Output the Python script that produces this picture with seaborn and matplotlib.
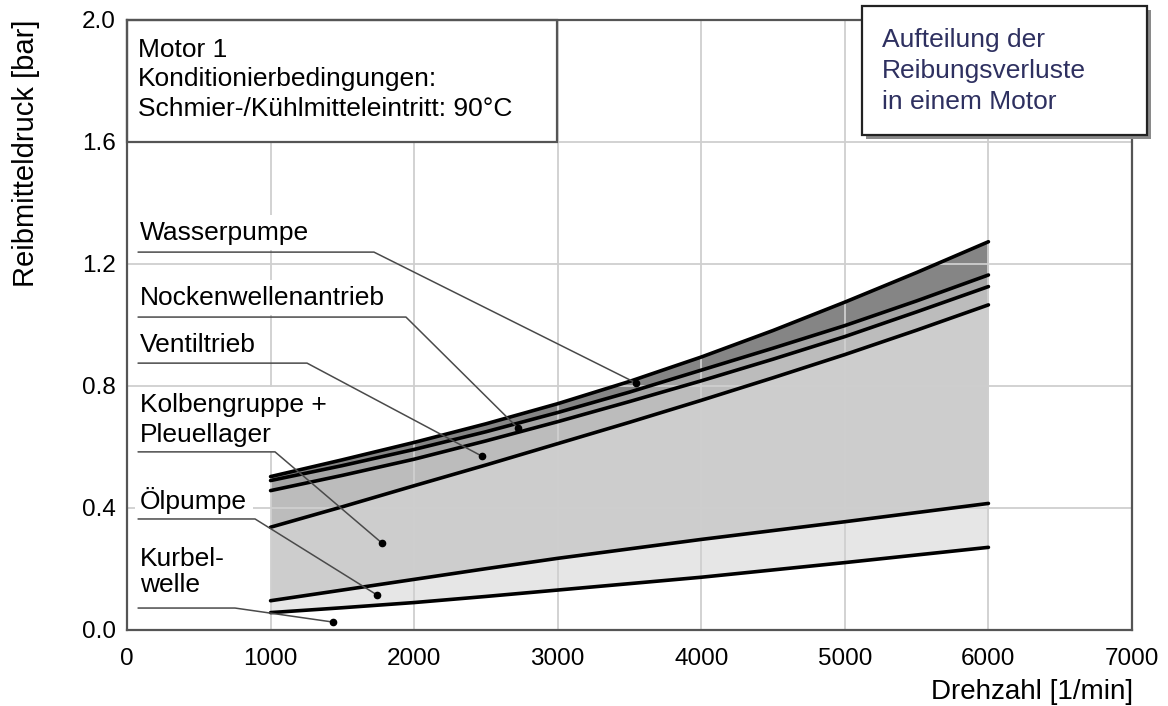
import numpy as np
import pandas as pd
import matplotlib.pyplot as plt
import seaborn as sns
from matplotlib.patches import Rectangle

# Reibmitteldruck je Komponente (kumuliert, obere Kante jedes Bandes) [bar]
rpm = [1000, 1500, 2000, 2500, 3000, 3500, 4000, 4500, 5000, 5500, 6000]
kurbelwelle = [0.057, 0.073, 0.090, 0.110, 0.131, 0.152, 0.173, 0.197, 0.221, 0.246, 0.271]
oelpumpe = [0.096, 0.131, 0.166, 0.201, 0.235, 0.266, 0.297, 0.326, 0.355, 0.385, 0.415]
kolbengruppe = [0.337, 0.404, 0.473, 0.541, 0.611, 0.681, 0.753, 0.827, 0.903, 0.983, 1.066]
ventiltrieb = [0.457, 0.507, 0.560, 0.620, 0.683, 0.749, 0.817, 0.888, 0.962, 1.043, 1.126]
nockenwelle = [0.490, 0.539, 0.592, 0.650, 0.713, 0.780, 0.852, 0.924, 0.998, 1.079, 1.164]
wasserpumpe = [0.503, 0.558, 0.615, 0.676, 0.742, 0.815, 0.895, 0.982, 1.075, 1.172, 1.273]

komponenten = ['Kurbelwelle', 'Ölpumpe', 'Kolbengruppe', 'Ventiltrieb',
               'Nockenwellenantrieb', 'Wasserpumpe']
band_colors = ['#e6e6e6', '#cdcdcd', '#bcbcbc', '#a4a4a4', '#858585']

x_ticks = [0, 1000, 2000, 3000, 4000, 5000, 6000, 7000]
y_ticks = [0.0, 0.4, 0.8, 1.2, 1.6, 2.0]

# Beschriftungen links mit Hinweislinie auf das jeweilige Band
label_texts = ['Wasserpumpe', 'Nockenwellenantrieb', 'Ventiltrieb',
               'Kolbengruppe +\nPleuellager', 'Ölpumpe', 'Kurbel-\nwelle']
label_y = [1.302, 1.089, 0.934, 0.689, 0.426, 0.190]
label_spacing = [1.2, 1.2, 1.2, 1.3, 1.2, 1.15]
underline_y = [1.239, 1.026, 0.875, 0.584, 0.364, 0.072]
underline_end = [1720, 1943, 1254, 1031, 892, 752]
dot_x = [3545, 2723, 2472, 1776, 1741, 1435]
dot_y = [0.810, 0.662, 0.570, 0.285, 0.115, 0.026]

sns.set_theme(style='whitegrid')
plt.rcParams['font.family'] = ['Liberation Sans', 'DejaVu Sans']
plt.rcParams['text.color'] = 'black'

df = pd.DataFrame({
    'Drehzahl': rpm * 6,
    'Komponente': np.repeat(komponenten, len(rpm)),
    'Reibmitteldruck': kurbelwelle + oelpumpe + kolbengruppe + ventiltrieb + nockenwelle + wasserpumpe,
})

fig = plt.figure(figsize=(11.68, 7.06), dpi=100)
ax = fig.add_axes([127 / 1168, 76 / 706, 1005 / 1168, 610 / 706])
ax.set_facecolor('white')

curves = [kurbelwelle, oelpumpe, kolbengruppe, ventiltrieb, nockenwelle, wasserpumpe]
for lower, upper, c in zip(curves[:-1], curves[1:], band_colors):
    ax.fill_between(rpm, lower, upper, color=c, linewidth=0, zorder=0.5)

sns.lineplot(data=df, x='Drehzahl', y='Reibmitteldruck', hue='Komponente',
             palette={k: 'black' for k in komponenten}, linewidth=2.6,
             legend=False, ax=ax, zorder=3)

ax.set_axisbelow(False)
ax.grid(True, color='#cfcfcf', linewidth=1.3, zorder=2.5)
ax.set_xlim(0, 7000)
ax.set_ylim(0, 2.0)
ax.set_xticks(x_ticks)
ax.set_xticklabels([str(t) for t in x_ticks])
ax.set_yticks(y_ticks)
ax.set_yticklabels([f'{t:.1f}' for t in y_ticks])
ax.tick_params(axis='both', labelsize=17.5, colors='#555555', labelcolor='black',
               direction='in', length=5, width=1)
ax.tick_params(axis='x', pad=13)
ax.tick_params(axis='y', pad=8)
ax.set_xlabel('')
ax.set_ylabel('')
for s in ax.spines.values():
    s.set_color('#555555')
    s.set_linewidth(1.6)
    s.set_zorder(6)

# Beschriftungen der Bänder
for txt, ty, ls, uy, ux, dx, dy in zip(label_texts, label_y, label_spacing,
                                       underline_y, underline_end, dot_x, dot_y):
    ax.text(91, ty, txt, fontsize=19, ha='left', va='center', linespacing=ls,
            zorder=4, bbox=dict(facecolor='white', edgecolor='none', pad=4))
    ax.plot([77, ux, dx], [uy, uy, dy], color='#4a4a4a', linewidth=1.1, zorder=5)
    ax.plot(dx, dy, 'o', color='black', markersize=4.5, zorder=5)

# Kasten oben links
ax.add_patch(Rectangle((0, 0.8), 0.428, 0.2, transform=ax.transAxes,
                       facecolor='white', edgecolor='#555555', linewidth=1.6,
                       zorder=4, clip_on=False))
ax.text(0.011, 0.9025, 'Motor 1\nKonditionierbedingungen:\nSchmier-/Kühlmitteleintritt: 90°C',
        transform=ax.transAxes, fontsize=19, ha='left', va='center',
        linespacing=1.28, zorder=5)

# Kasten oben rechts mit Schatten
W, H = 1168, 706
fig.patches.append(Rectangle((866 / W, 1 - 139 / H), 285 / W, 129 / H,
                             transform=fig.transFigure, facecolor='#8a8a8a',
                             edgecolor='none', zorder=7))
fig.patches.append(Rectangle((862 / W, 1 - 135 / H), 285 / W, 129 / H,
                             transform=fig.transFigure, facecolor='white',
                             edgecolor='#222222', linewidth=1.6, zorder=8))
fig.text(882 / W, 1 - 71 / H, 'Aufteilung der\nReibungsverluste\nin einem Motor',
         fontsize=19, color='#2e3060', ha='left', va='center',
         linespacing=1.38, zorder=9)

fig.text(26 / W, 1 - 153 / H, 'Reibmitteldruck [bar]', rotation=90,
         fontsize=21, ha='center', va='center')
fig.text(1133 / W, 1 - 692 / H, 'Drehzahl [1/min]', fontsize=20,
         ha='right', va='center')

fig.savefig('out.png', dpi=100)
